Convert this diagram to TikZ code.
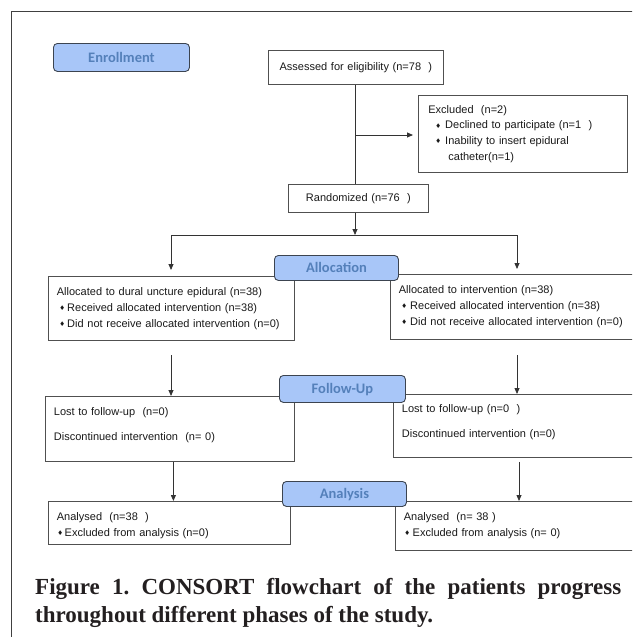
\documentclass[tikz,border=0pt]{standalone}
\usepackage{fontspec}
\usepackage{tikz}
\usetikzlibrary{arrows.meta}
\newfontfamily\boxfam{Liberation Sans}
\newfontfamily\phasefam{Carlito}
\newfontfamily\capfam{Liberation Serif}
\newfontfamily\symfam{DejaVu Sans}
\definecolor{phasefill}{RGB}{168,198,248}
\definecolor{phasetext}{RGB}{84,128,186}
\definecolor{phaseline}{RGB}{60,68,80}
\definecolor{boxline}{RGB}{80,80,80}
\definecolor{captext}{RGB}{35,31,32}
\newcommand{\bul}{{\symfam\fontsize{6.5}{6.5}\selectfont\raisebox{0.8pt}{♦}}}

\begin{document}
\begin{tikzpicture}[x=1pt,y=-1pt,
    >={Triangle[length=6pt,width=5pt]},
    box/.style={draw=boxline,line width=0.8pt,anchor=north west,inner xsep=8.5pt,inner ysep=0pt,
      align=left,text=black!90,font=\boxfam\fontsize{11}{16}\selectfont},
    phase/.style={draw=phaseline,fill=phasefill,rounded corners=4pt,line width=0.9pt,anchor=north west,
      inner sep=0pt,text height=9.4pt,text depth=0pt,text=phasetext,font=\phasefam\bfseries\fontsize{14.5}{16}\selectfont},
    flow/.style={draw=black!80,line width=0.8pt}]
  \useasboundingbox (0,0) rectangle (632,637);
  \clip (0,0) rectangle (632,637);
  % frame
  \coordinate (frameBL) at (11,645);
  \coordinate (frameTL) at (11,11);
  \coordinate (frameTR) at (645,11);
  \draw[line width=1pt,black!75] (frameBL) -- (frameTL) -- (frameTR);
  % enrollment
  \node[box,align=center,text width=158pt,minimum height=34pt] (assess) at (268,50) {Assessed for eligibility (n=78\ \ )};
  \node[box,inner xsep=10pt,text width=189pt,minimum height=77pt,font=\boxfam\fontsize{11}{15.7}\selectfont] (excl) at (418,95)
    {Excluded\ \ (n=2)\\
     \hspace*{7pt}\bul\hspace{4pt}Declined to participate (n=1\ \ )\\
     \hspace*{7pt}\bul\hspace{4pt}Inability to insert epidural\\
     \hspace*{20pt}catheter(n=1)};
  \node[box,align=center,text width=123pt,minimum height=28pt] (rand) at (288,184) {Randomized (n=76\ \ )};
  % allocation
  \node[box,text width=229pt,minimum height=64pt] (allocL) at (48,276)
    {Allocated to dural uncture epidural (n=38)\\
     \hspace*{2.5pt}\bul\hspace{2pt}Received allocated intervention (n=38)\\
     \hspace*{2.5pt}\bul\hspace{2pt}Did not receive allocated intervention (n=0)};
  \node[box,text width=238pt,minimum height=65pt] (allocR) at (390,274)
    {Allocated to intervention (n=38)\\
     \hspace*{2.5pt}\bul\hspace{3pt}Received allocated intervention (n=38)\\
     \hspace*{2.5pt}\bul\hspace{3pt}Did not receive allocated intervention (n=0)};
  % follow-up
  \node[box,text width=232pt,minimum height=65pt] (fuL) at (45,396)
    {Lost to follow-up\ \ (n=0)\\[9pt]
     Discontinued intervention\ \ (n= 0)\rule[-9pt]{0pt}{9pt}};
  \node[box,text width=235pt,minimum height=63pt] (fuR) at (393,394)
    {Lost to follow-up (n=0\ \ )\\[9pt]
     Discontinued intervention (n=0)\rule[-10pt]{0pt}{10pt}};
  % analysis
  \node[box,text width=225pt,minimum height=43pt] (anL) at (48,501)
    {\rule{0pt}{13pt}Analysed\ \ (n=38\ \ )\\
     \hspace*{0.5pt}\bul\hspace{1.5pt}Excluded from analysis (n=0)};
  \node[box,text width=233pt,minimum height=49pt] (anR) at (395,501)
    {Analysed\ \ (n= 38 )\\
     \hspace*{0.5pt}\bul\hspace{2.5pt}Excluded from analysis (n= 0)};
  % phase labels
  \node[phase,minimum width=136pt,minimum height=28pt] (enrol) at (53,43) {Enrollment};
  \node[phase,minimum width=124pt,minimum height=25pt] (alloc) at (274,255) {Allocation};
  \node[phase,minimum width=126pt,minimum height=27pt] (follow) at (279,375) {Follow-Up};
  \node[phase,minimum width=124pt,minimum height=25pt] (analys) at (282,481) {Analysis};
  % connectors
  \coordinate (split) at (355,135);
  \coordinate (branch) at (355,235);
  \coordinate (branchL) at (171,235);
  \coordinate (branchR) at (517,235);
  \coordinate (gapL) at (171,355);
  \coordinate (gapR) at (517,355);
  \draw[flow] (assess.south -| split) -- (rand.north -| split);
  \draw[flow,->,shorten >=5pt] (split) -- (split -| excl.west);
  \draw[flow,->] (rand.south -| split) -- (branch);
  \draw[flow] (branchL) -- (branchR);
  \draw[flow,->,shorten >=6pt] (branchL) -- (branchL |- allocL.north);
  \draw[flow,->,shorten >=5pt] (branchR) -- (branchR |- allocR.north);
  \draw[flow,->] (gapL) -- (gapL |- fuL.north);
  \draw[flow,->] (gapR) -- (gapR |- fuR.north);
  \draw[flow,->] ([xshift=3.5pt]fuL.south) -- ([xshift=3.5pt]fuL.south |- anL.north);
  \draw[flow,->,shorten <=4pt] ([xshift=126pt]fuR.south west) -- ([xshift=126pt]fuR.south west |- anR.north);
  % caption
  \node[anchor=base west,text width=586pt,align=justify,inner sep=0pt,text=captext,
    font=\capfam\bfseries\fontsize{23}{28}\selectfont] (caption) at (35,594)
    {\frenchspacing\hyphenpenalty=10000 Figure 1. CONSORT flowchart of the patients progress throughout different phases of the study.};
\end{tikzpicture}
\end{document}
